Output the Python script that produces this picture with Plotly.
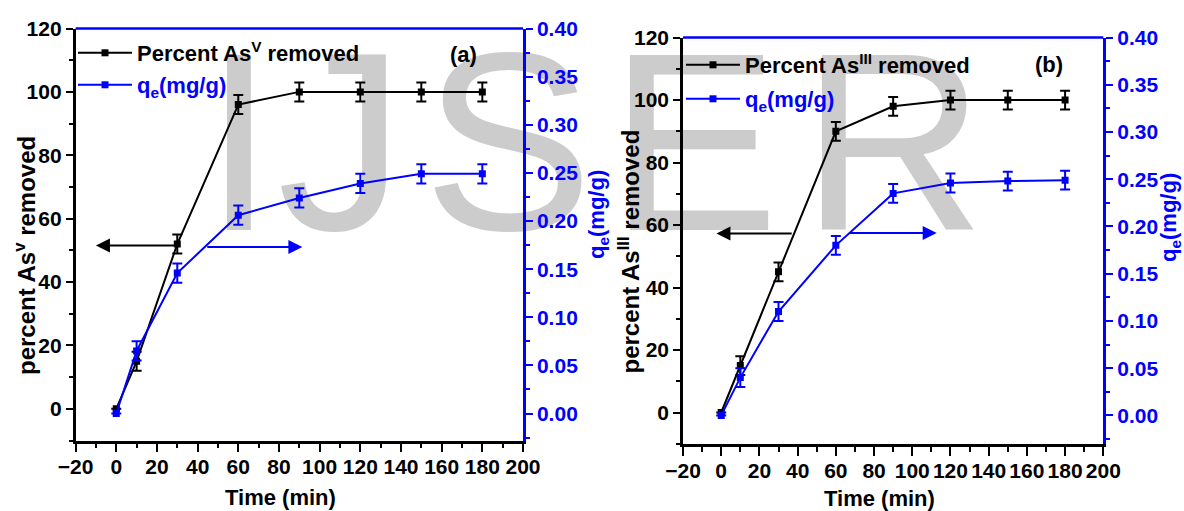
import plotly.graph_objects as go

# ---------------- data ----------------
time_min = [0, 10, 30, 60, 90, 120, 150, 180]

pct_as5 = [0, 15, 52, 96, 100, 100, 100, 100]
pct_as5_err = [0, 3, 3, 3, 3, 3, 3, 3]
qe_as5 = [0.0, 0.065, 0.146, 0.206, 0.224, 0.239, 0.249, 0.249]
qe_as5_err = [0, 0.01, 0.01, 0.01, 0.01, 0.01, 0.01, 0.01]

pct_as3 = [0, 15, 45, 90, 98, 100, 100, 100]
pct_as3_err = [0, 3, 3, 3, 3, 3, 3, 3]
qe_as3 = [0.0, 0.04, 0.11, 0.18, 0.235, 0.246, 0.248, 0.249]
qe_as3_err = [0, 0.01, 0.01, 0.01, 0.01, 0.01, 0.01, 0.01]

x_tickvals = [-20, 0, 20, 40, 60, 80, 100, 120, 140, 160, 180, 200]
left_tickvals = [0, 20, 40, 60, 80, 100, 120]
right_tickvals = [0.00, 0.05, 0.10, 0.15, 0.20, 0.25, 0.30, 0.35, 0.40]
right_ticktext = ["0.00", "0.05", "0.10", "0.15", "0.20", "0.25", "0.30", "0.35", "0.40"]

watermark_letters = ["I", "J", "S", "E", "R"]

# ---------------- layout helpers ----------------
W, H = 1184, 511
def fx(px):
    return px / W
def fy(py):
    return 1 - py / H

BLACK = "#000000"
BLUE = "#0000ff"
FONT = "Liberation Sans, Arial, sans-serif"
tickfont_k = dict(family=FONT, size=21, color=BLACK, weight="bold")
tickfont_b = dict(family=FONT, size=21, color=BLUE, weight="bold")

fig = go.Figure()

# watermark (drawn first, under everything); letter centres in pixels
wm_x_px = [239, 341, 508, 694, 893]
wm_y_px = 166
fig.add_trace(go.Scatter(
    x=[fx(v) for v in wm_x_px], y=[fy(wm_y_px)] * len(wm_x_px),
    mode="text", text=watermark_letters, textposition="middle center",
    textfont=dict(family=FONT, size=255, color="#cccccc"),
    xaxis="x", yaxis="y", hoverinfo="skip", showlegend=False,
))

def add_series(x, y, err, color, xa, ya, name, legend):
    fig.add_trace(go.Scatter(
        x=x, y=y, mode="lines+markers", name=name,
        xaxis=xa, yaxis=ya, legend=legend,
        line=dict(color=color, width=2),
        marker=dict(symbol="square", size=7, color=color),
        error_y=dict(type="data", array=err, visible=True,
                     color=color, thickness=2, width=5),
    ))

add_series(time_min, pct_as5, pct_as5_err, BLACK, "x2", "y2",
           "Percent As<sup>V</sup> removed", "legend")
add_series(time_min, qe_as5, qe_as5_err, BLUE, "x2", "y3",
           "q<sub>e</sub>(mg/g)", "legend2")
add_series(time_min, pct_as3, pct_as3_err, BLACK, "x3", "y4",
           "Percent As<sup>III</sup> removed", "legend3")
add_series(time_min, qe_as3, qe_as3_err, BLUE, "x3", "y5",
           "q<sub>e</sub>(mg/g)", "legend4")

def xaxis_cfg(domain, anchor):
    return dict(domain=domain, anchor=anchor, range=[-20, 200],
                tickmode="array", tickvals=x_tickvals, tickangle=0,
                showline=True, linecolor=BLACK, linewidth=2.5,
                ticks="outside", ticklen=9, tickwidth=2, tickcolor=BLACK,
                minor=dict(ticks="outside", ticklen=5, tickwidth=2,
                           tickcolor=BLACK, dtick=10, tick0=0),
                tickfont=tickfont_k, showgrid=False, zeroline=False,
                ticklabelstandoff=-3, automargin=False)

def yleft_cfg(domain, anchor):
    return dict(domain=domain, anchor=anchor, range=[-10, 120],
                tickmode="array", tickvals=left_tickvals,
                showline=True, linecolor=BLACK, linewidth=2.5,
                ticks="outside", ticklen=7, tickwidth=2, tickcolor=BLACK,
                minor=dict(ticks="outside", ticklen=4, tickwidth=2,
                           tickcolor=BLACK, dtick=10, tick0=0),
                tickfont=tickfont_k, showgrid=False, zeroline=False,
                automargin=False)

def yright_cfg(overlay, anchor, rng):
    return dict(overlaying=overlay, anchor=anchor, side="right", range=rng,
                tickmode="array", tickvals=right_tickvals, ticktext=right_ticktext,
                showline=True, linecolor=BLUE, linewidth=2.5,
                ticks="outside", ticklen=7, tickwidth=2, tickcolor=BLUE,
                minor=dict(ticks="outside", ticklen=4, tickwidth=2,
                           tickcolor=BLUE, dtick=0.025, tick0=0),
                tickfont=tickfont_b, showgrid=False, zeroline=False,
                automargin=False)

ax_a = [fx(75.6), fx(523.0)]
ay_a = [fy(440.5), fy(28.5)]
ax_b = [fx(683.0), fx(1103.3)]
ay_b = [fy(443.75), fy(37.5)]

legfont_k = dict(family=FONT, size=22, color=BLACK, weight="bold")
legfont_b = dict(family=FONT, size=22, color=BLUE, weight="bold")
def leg(xp, yp, font):
    return dict(x=fx(xp), y=fy(yp), xanchor="left", yanchor="middle",
                bgcolor="rgba(0,0,0,0)", borderwidth=0, font=font,
                itemwidth=54, tracegroupgap=0)

fig.update_layout(
    width=W, height=H, autosize=False,
    margin=dict(l=0, r=0, t=0, b=0, pad=0, autoexpand=False),
    paper_bgcolor="white", plot_bgcolor="rgba(0,0,0,0)",
    xaxis=dict(domain=[0, 1], range=[0, 1], visible=False, fixedrange=True),
    yaxis=dict(domain=[0, 1], range=[0, 1], visible=False, fixedrange=True),
    xaxis2=xaxis_cfg(ax_a, "y2"),
    yaxis2=yleft_cfg(ay_a, "x2"),
    yaxis3=yright_cfg("y2", "x2", [-0.028, 0.40]),
    xaxis3=xaxis_cfg(ax_b, "y4"),
    yaxis4=yleft_cfg(ay_b, "x3"),
    yaxis5=yright_cfg("y4", "x3", [-0.03, 0.40]),
    legend=leg(73, 53, legfont_k),
    legend2=leg(73, 85, legfont_b),
    legend3=leg(681, 65, legfont_k),
    legend4=leg(681, 99, legfont_b),
    showlegend=True,
)

# blue top frame lines
for xr, yr in (("x2 domain", "y2 domain"), ("x3 domain", "y4 domain")):
    fig.add_shape(type="line", xref=xr, yref=yr, x0=0, x1=1, y0=1, y1=1,
                  line=dict(color=BLUE, width=2.5))

def title(text, xp, yp, color=BLACK, angle=0, size=22):
    fig.add_annotation(text=text, x=fx(xp), y=fy(yp), xref="paper", yref="paper",
                       showarrow=False, textangle=angle,
                       xanchor="center", yanchor="middle",
                       font=dict(family=FONT, size=size, color=color, weight="bold"))

title("percent As<sup>v</sup> removed", 25, 256, angle=-90, size=24)
title("q<sub>e</sub>(mg/g)", 598, 215, color=BLUE, angle=-90)
title("Time (min)", 280, 497)
title("(a)", 463, 54)
title("percent As<sup>III</sup> removed", 628, 251.5, angle=-90, size=24)
title("q<sub>e</sub>(mg/g)", 1170, 218, color=BLUE, angle=-90)
title("Time (min)", 879, 498)
title("(b)", 1049, 65)

def arrow(x_head, y_head, x_tail, y_tail, xr, yr, color):
    fig.add_annotation(x=x_head, y=y_head, ax=x_tail, ay=y_tail,
                       xref=xr, yref=yr, axref=xr, ayref=yr,
                       text="", showarrow=True, arrowhead=2, arrowsize=1.4,
                       arrowwidth=2, arrowcolor=color, standoff=0, startstandoff=0)

arrow(-10, 51.5, 30, 51.5, "x2", "y2", BLACK)
arrow(91.5, 0.173, 44, 0.173, "x2", "y3", BLUE)
arrow(-2.5, 57.3, 37.7, 57.3, "x3", "y4", BLACK)
arrow(112.8, 0.193, 66.5, 0.193, "x3", "y5", BLUE)

fig.write_html("out.html")
